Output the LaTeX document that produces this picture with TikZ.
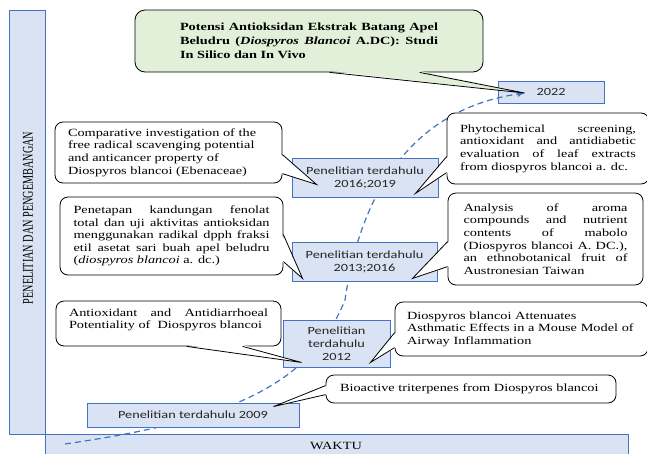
\documentclass[tikz,border=0pt]{standalone}
\usepackage{fontspec}
\setmainfont{Liberation Serif}[FakeStretch=1.3]
\newfontfamily\boxfont{Carlito}[FakeStretch=1.3]
\newfontfamily\sidefont{Liberation Serif}[FakeStretch=0.68]
\usetikzlibrary{arrows.meta,calc}

\definecolor{boxfill}{HTML}{DAE3F3}
\definecolor{boxline}{HTML}{4472C4}
\definecolor{titlefill}{HTML}{E2F0D9}
\definecolor{curveblue}{HTML}{4472C4}

% pointer of a note: base a, base b, tip, inward shift
\newcommand{\callwedge}[5][white]{%
  \fill[#1] ($#2+(#5)$) -- (#4) -- ($#3+(#5)$) -- cycle;
  \draw[wedgeline] ($#2$) -- (#4) -- ($#3$);}
\newcommand{\dropby}[1]{\rule[-#1]{0pt}{#1}}

\begin{document}
\begin{tikzpicture}[x=1pt,y=-1pt,
    barbox/.style={draw=boxline,fill=boxfill,line width=0.9pt},
    yearbox/.style={draw=boxline,fill=boxfill,line width=0.9pt,inner sep=0pt,
      align=center,text=black!85,font=\boxfont\fontsize{11}{13}\selectfont},
    note/.style={draw,fill=white,line width=0.8pt,rounded corners=8pt,
      inner sep=0pt,font=\fontsize{11}{12.6}\selectfont},
    wedgeline/.style={line width=0.8pt},
    trend/.style={draw=curveblue,line width=1.2pt,dash pattern=on 6pt off 4pt,
      -{Latex[length=7pt,width=6pt]}}]

    \useasboundingbox (0,0) rectangle (647,453);

    % axes
    \draw[barbox] (9,10) rectangle (45,434);
    \draw[barbox] (45,434) rectangle (628,462);
    \node[rotate=90,font=\sidefont\fontsize{15}{15}\selectfont] (yaxis) at (28,218) {PENELITIAN DAN PENGEMBANGAN};
    \node[font=\fontsize{11}{13}\selectfont] (xaxis) at (336,446) {WAKTU};

    % 2022 and the time line
    \node[yearbox,minimum width=106pt,minimum height=22pt] (b2022) at (551,92) {2022};
    \coordinate (t2022) at ($(b2022.west)+(27,1)$);
    \coordinate (c0) at (65,444);
    \draw[trend] (c0) .. controls (215,422) and (308,392) .. (345,300)
        .. controls (360,195) and (410,110) .. (t2022);

    % earlier studies
    \node[yearbox,minimum width=146pt,minimum height=39pt] (b1619) at (365,177.5) {Penelitian terdahulu\\2016;2019};
    \node[yearbox,minimum width=145pt,minimum height=39pt] (b1316) at (364.5,261.5) {Penelitian terdahulu\\2013;2016};
    \node[yearbox,minimum width=107pt,minimum height=47pt] (b2012) at (336.5,343.5) {Penelitian\\terdahulu\\2012};
    \node[yearbox,minimum width=212pt,minimum height=24pt] (b2009) at (193,415) {Penelitian terdahulu 2009};

    \coordinate (t1) at ($(b1619.south west)+(25,-13)$);
    \coordinate (t2) at ($(b1619.south east)+(-23,-4)$);
    \coordinate (t3) at ($(b1316.south west)+(11,-3)$);
    \coordinate (t4) at ($(b1316.south east)+(-25,-3)$);
    \coordinate (t5) at ($(b2012.south west)+(19,-5)$);
    \coordinate (t6) at ($(b2012.south east)+(-20,-5)$);
    \coordinate (t7) at ($(b2009.north east)+(-26,4)$);

    % notes
    \node[note,fill=titlefill,rounded corners=10pt,minimum width=348pt,minimum height=62pt,
        text width=258pt,align=justify,font=\bfseries\fontsize{11}{14}\selectfont] (title) at (309,41)
        {Potensi Antioksidan Ekstrak Batang Apel\linebreak Beludru (\textit{Diospyros Blancoi} A.DC): Studi\linebreak In Silico dan In Vivo};
    \callwedge[titlefill]{(title.south west)+(195,0)}{(title.south west)+(285,0)}{t2022}{0,-1.5}

    \node[note,minimum width=227pt,minimum height=61pt,text width=201pt,align=left] (c1) at (168.5,152.5)
        {Comparative investigation of the\\free radical scavenging potential\\and anticancer property of\\Diospyros blancoi (Ebenaceae)};
    \callwedge{(c1.north east)+(0,33)}{(c1.north east)+(0,52)}{t1}{-1.5,0}

    \node[note,minimum width=202pt,minimum height=71pt,text width=176pt,align=justify] (c2) at (548,148.5)
        {Phytochemical screening,\linebreak antioxidant and antidiabetic\linebreak evaluation of leaf extracts\linebreak from diospyros blancoi a. dc.};
    \callwedge{(c2.north west)+(0,44)}{(c2.north west)+(0,60)}{t2}{1.5,0}

    \node[note,minimum width=223pt,minimum height=78pt,text width=196pt,align=justify] (c3) at (171.5,236)
        {Penetapan kandungan fenolat\linebreak total dan uji aktivitas antioksidan\linebreak menggunakan radikal dpph fraksi\linebreak etil asetat sari buah apel beludru\linebreak (\textit{diospyros blancoi} a. dc.)};
    \callwedge{(c3.north east)+(0,38)}{(c3.north east)+(0,65)}{t3}{-1.5,0}

    \node[note,minimum width=195pt,minimum height=92pt,text width=164pt,align=justify] (c4) at (545.5,239)
        {Analysis of aroma\linebreak compounds and nutrient\linebreak contents of mabolo\linebreak (Diospyros blancoi A. DC.),\linebreak an ethnobotanical fruit of\linebreak Austronesian Taiwan};
    \callwedge{(c4.north west)+(0,49)}{(c4.north west)+(0,74)}{t4}{1.5,0}

    \node[note,minimum width=225pt,minimum height=45pt,text width=199pt,align=justify] (c5) at (168.5,323.5)
        {Antioxidant and Antidiarrhoeal\linebreak Potentiality of\ \ Diospyros blancoi\dropby{10pt}};
    \callwedge{(c5.south west)+(131,0)}{(c5.south west)+(187,0)}{t5}{0,-1.5}

    \node[note,minimum width=253pt,minimum height=54pt,text width=229pt,align=left] (c6) at (521.5,329)
        {Diospyros blancoi Attenuates\\Asthmatic Effects in a Mouse Model of\\Airway Inflammation};
    \callwedge{(c6.north west)+(0,31)}{(c6.north west)+(0,46)}{t6}{1.5,0}

    \node[note,minimum width=290pt,minimum height=28pt,text width=262pt,align=left] (c7) at (471,389)
        {Bioactive triterpenes from Diospyros blancoi};
    \callwedge{(c7.north west)+(0,11)}{(c7.north west)+(0,20)}{t7}{1.5,0}
\end{tikzpicture}
\end{document}
